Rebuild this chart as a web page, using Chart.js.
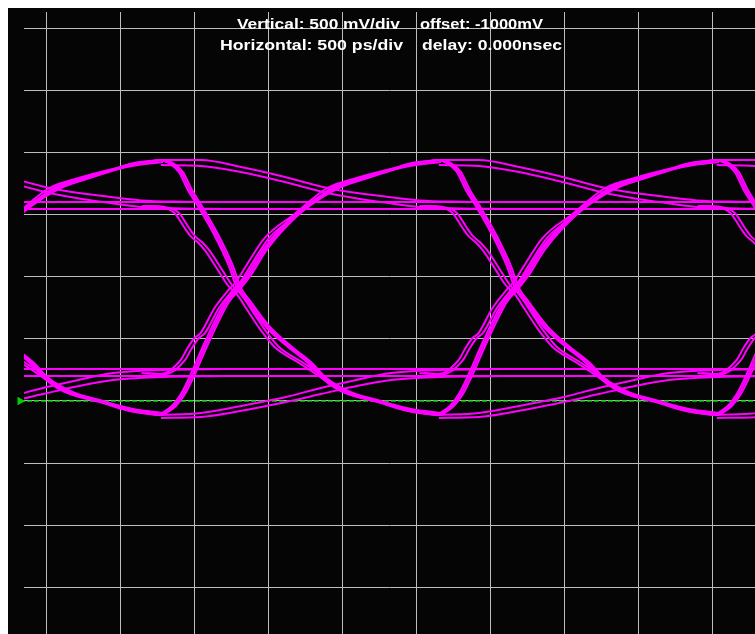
<!DOCTYPE html>
<html>
<head>
<meta charset="utf-8">
<script src="https://cdn.jsdelivr.net/npm/chart.js@4.4.0/dist/chart.umd.min.js"></script>
<style>
  html, body { margin: 0; padding: 0; background: #fff; }
  #wrap { position: absolute; left: 8px; top: 8px; width: 747px; height: 626px; background: #050505; }
</style>
</head>
<body>
<div id="wrap"><canvas id="eye"></canvas></div>
<script>
// scope screen, 500 ps/div and 500 mV/div
const xGrid = [0, 500, 1000, 1500, 2000, 2500, 3000, 3500, 4000, 4500];
const yGrid = [-1500, -1000, -500, 0, 500, 1000, 1500, 2000, 2500, 3000];

// threshold crossings of the data edges (ps) and per-trace jitter around them
const crossings = [-2459, -581, 1297, 3175, 5053];
const fastJitter = [-14, 0, 14];
const slowJitter = [-16, 14];

// edge shapes: [ps from crossing, mV]
// fast = single bit (starts from the overshoot), slow = after a long run (starts from the flat level)
const riseFast = [[-527,-113],[-439,-40],[-378,56],[-311,217],[-216,475],[-81,797],[0,910],[81,1038],[169,1208],
  [304,1401],[419,1530],[541,1634],[676,1723],[878,1803],[1047,1868],[1182,1916],[1351,1940]];
const fallFast = [[-527,1940],[-459,1916],[-392,1844],[-331,1699],[-264,1570],[-149,1328],[-54,1087],[0,910],[68,797],
  [142,676],[209,580],[345,435],[480,306],[568,193],[662,105],[750,56],[973,-16],[1155,-81],[1351,-113]];
const riseSlow = [[-642,225],[-514,217],[-378,330],[-331,427],[-284,507],[-243,547],[-149,749],[-54,894],[0,966],
  [68,1095],[189,1312],[392,1506],[615,1715],[811,1795],[1014,1860],[1182,1900],[1351,1924]];
const fallSlow = [[-642,1570],[-514,1562],[-419,1514],[-351,1393],[-311,1328],[-264,1280],[-216,1216],[-135,1071],
  [-61,934],[0,862],[81,717],[162,572],[257,435],[412,314],[527,225],[615,153],[743,72],[946,0],[1149,-64],[1351,-97]];

// overshoot settling when the next bit repeats
const highDecayA = [[1351,1940],[1622,1940],[1892,1884],[2162,1812],[2507,1707],[2838,1650],[3095,1615],[3378,1605],[3649,1602]];
const highDecayB = [[1351,1900],[1622,1892],[1892,1844],[2162,1771],[2507,1667],[2838,1602],[3095,1562],[3378,1550],[3649,1546]];
const lowDecayA = [[1351,-113],[1622,-97],[1960,-24],[2196,32],[2432,105],[2642,161],[2905,225],[3243,250],[3649,258]];
const lowDecayB = [[1351,-137],[1622,-129],[1960,-64],[2196,-8],[2432,56],[2642,113],[2905,169],[3243,193],[3649,201]];

// long runs of ones / zeros (mV)
const flatHigh = [1602, 1546];
const flatLow = [258, 201];

// reference marker (mV)
const markerLevel = 0;

const headerText = [
  { text: 'Vertical: 500 mV/div', x: 229, y: 21, w: 163 },
  { text: 'offset: -1000mV', x: 412, y: 21, w: 123 },
  { text: 'Horizontal: 500 ps/div', x: 212, y: 42, w: 183 },
  { text: 'delay: 0.000nsec', x: 414, y: 42, w: 140 }
];

const MAGENTA = '#ff00ff';

function place(shape, t0) {
  return shape.map(p => ({ x: t0 + p[0], y: p[1] }));
}

function trace(data, width) {
  return {
    data: data,
    borderColor: MAGENTA,
    borderWidth: width || 2,
    pointRadius: 0,
    cubicInterpolationMode: 'monotone',
    fill: false
  };
}

const datasets = [];

crossings.forEach(c => {
  fastJitter.forEach(j => {
    datasets.push(trace(place(riseFast, c + j)));
    datasets.push(trace(place(fallFast, c + j)));
  });
  slowJitter.forEach(j => {
    datasets.push(trace(place(riseSlow, c + j)));
    datasets.push(trace(place(fallSlow, c + j)));
  });
  [highDecayA, highDecayB, lowDecayA, lowDecayB].forEach(s => {
    datasets.push(trace(place(s, c)));
  });
});

flatHigh.concat(flatLow).forEach(v => {
  datasets.push(trace([{ x: -300, y: v }, { x: 5000, y: v }]));
});

// green ground marker, drawn underneath the traces
datasets.push({
  data: [{ x: -223, y: markerLevel }, { x: -182, y: markerLevel }, { x: 5000, y: markerLevel }],
  borderColor: '#00d000',
  backgroundColor: '#00d000',
  borderWidth: 1.5,
  borderDash: [5, 2],
  pointRadius: [0, 3.5, 0],
  pointStyle: 'triangle',
  rotation: 90,
  clip: false
});

const headerPlugin = {
  id: 'header',
  afterDraw(chart) {
    const ctx = chart.ctx;
    ctx.save();
    ctx.fillStyle = '#ffffff';
    ctx.font = 'bold 15px "Liberation Sans", Arial, sans-serif';
    ctx.textBaseline = 'alphabetic';
    headerText.forEach(h => {
      const w = ctx.measureText(h.text).width;
      ctx.save();
      ctx.translate(h.x, h.y);
      ctx.scale(h.w / w, 1);
      ctx.fillText(h.text, 0, 0);
      ctx.restore();
    });
    ctx.restore();
  }
};

const gridOpts = { color: '#bdbdbd', lineWidth: 1, drawTicks: false };

new Chart(document.getElementById('eye'), {
  type: 'line',
  data: { datasets: datasets },
  options: {
    responsive: true,
    maintainAspectRatio: false,
    animation: false,
    layout: { padding: { left: 16, top: 4, right: 0, bottom: 0 } },
    plugins: { legend: { display: false }, tooltip: { enabled: false } },
    scales: {
      x: {
        type: 'linear',
        min: -155,
        max: 4784,
        grid: gridOpts,
        border: { display: false },
        ticks: { display: false },
        afterBuildTicks: s => { s.ticks = xGrid.map(v => ({ value: v })); }
      },
      y: {
        type: 'linear',
        min: -1876,
        max: 3132,
        grid: gridOpts,
        border: { display: false },
        ticks: { display: false },
        afterBuildTicks: s => { s.ticks = yGrid.map(v => ({ value: v })); }
      }
    }
  },
  plugins: [headerPlugin]
});
</script>
</body>
</html>
